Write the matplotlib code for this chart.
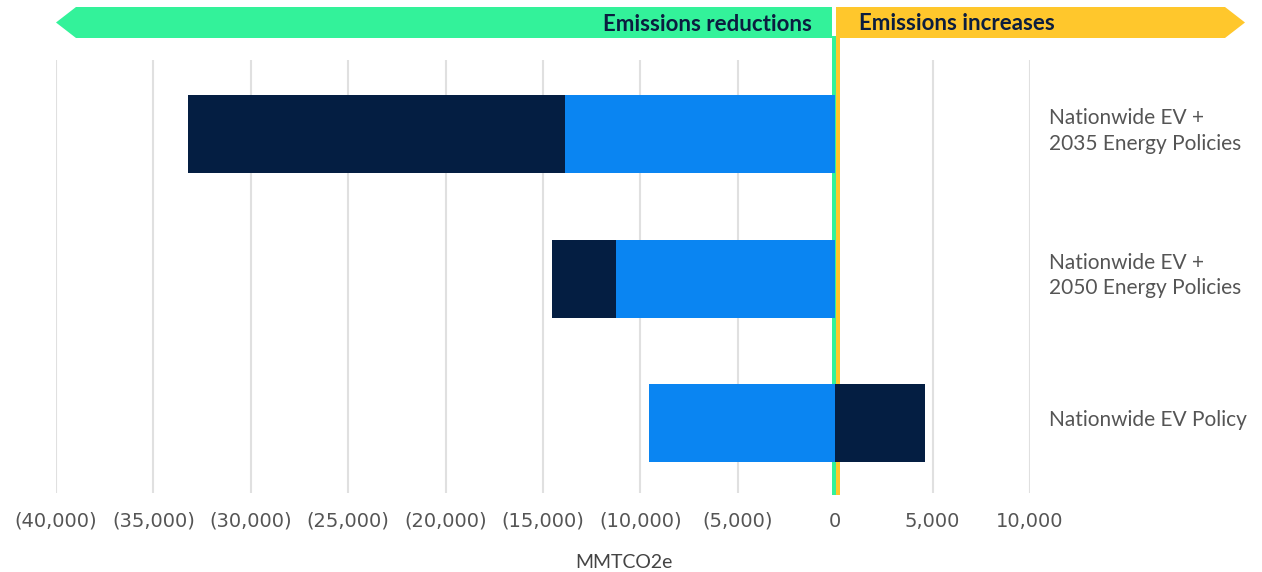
import matplotlib
matplotlib.use("Agg")
import matplotlib.pyplot as plt
from matplotlib.patches import Polygon
from matplotlib.lines import Line2D
import matplotlib.transforms as mtransforms
import numpy as np

# ---- data ----
categories = ["Nationwide EV +\n2035 Energy Policies",
              "Nationwide EV +\n2050 Energy Policies",
              "Nationwide EV Policy"]
blue_vals = [-13850, -11230, -9540]     # first segment (light blue)
navy_vals = [-19380, -3330, 4630]       # second segment (navy)
xticks = [-40000, -35000, -30000, -25000, -20000, -15000, -10000, -5000, 0, 5000, 10000]
xtick_labels = ["(40,000)", "(35,000)", "(30,000)", "(25,000)", "(20,000)",
                "(15,000)", "(10,000)", "(5,000)", "0", "5,000", "10,000"]
x_label = "MMTCO2e"
arrow_left_text = "Emissions reductions"
arrow_right_text = "Emissions increases"

BLUE = "#0A85F2"
NAVY = "#041E42"
GREEN = "#33F29A"
YELLOW = "#FFC72C"
GRID = "#E0E0E0"
TEXT = "#555555"

W, H = 1262, 572
fig = plt.figure(figsize=(W / 100, H / 100), dpi=100)

ax_left, ax_right = 56, 1030
ax_top, ax_bot = 60, 493
ax = fig.add_axes([ax_left / W, 1 - ax_bot / H, (ax_right - ax_left) / W, (ax_bot - ax_top) / H])

y = np.arange(len(categories))
bh = 0.54
for i in y:
    b = blue_vals[i]
    n = navy_vals[i]
    ax.barh(i, b, height=bh, color=BLUE, zorder=3)
    start = b if np.sign(n) == np.sign(b) else 0
    ax.barh(i, n, left=start, height=bh, color=NAVY, zorder=3)

ax.set_xlim(-40000, 10000)
ax.set_ylim(2.484, -0.512)
ax.set_xticks(xticks)
ax.set_xticklabels(xtick_labels, fontsize=14, color=TEXT, family="DejaVu Sans")
ax.tick_params(axis="x", length=0, pad=13.5)
ax.set_yticks([])
for s in ax.spines.values():
    s.set_visible(False)
ax.grid(axis="x", color=GRID, linewidth=1.5, zorder=0)
ax.set_axisbelow(True)

# category labels on the right
blend = mtransforms.blended_transform_factory(fig.transFigure, ax.transData)
for i, c in zip(y, categories):
    ax.text(1049 / W, i - 0.02, c, transform=blend,
            ha="left", va="center", fontsize=15, color=TEXT, family="Lato", linespacing=1.33)

# zero reference lines (green + yellow), behind bars
ymax = (ax_bot - 38) / (ax_bot - ax_top)
t_g = mtransforms.offset_copy(ax.get_xaxis_transform(), fig=fig, x=-1.2 * 0.72, y=0, units="points")
t_y = mtransforms.offset_copy(ax.get_xaxis_transform(), fig=fig, x=2.8 * 0.72, y=0, units="points")
ax.add_line(Line2D([0, 0], [0, ymax], transform=t_g, color=GREEN, linewidth=4 * 0.72, clip_on=False, zorder=2))
ax.add_line(Line2D([0, 0], [0, ymax], transform=t_y, color=YELLOW, linewidth=4 * 0.72, clip_on=False, zorder=2))

# header arrows (pixel coords -> figure fraction)
def fc(px, py):
    return (px / W, 1 - py / H)

green_poly = [fc(56, 22.5), fc(76, 7), fc(832, 7), fc(832, 38), fc(76, 38)]
yellow_poly = [fc(836, 7), fc(1225, 7), fc(1245, 22.5), fc(1225, 38), fc(836, 38)]
fig.patches.append(Polygon(green_poly, closed=True, transform=fig.transFigure, facecolor=GREEN, edgecolor="none"))
fig.patches.append(Polygon(yellow_poly, closed=True, transform=fig.transFigure, facecolor=YELLOW, edgecolor="none"))
fig.text(812 / W, 1 - 24.5 / H, arrow_left_text, ha="right", va="center", fontsize=16,
         fontweight="bold", color="#0B1D3F", family="Lato")
fig.text(859 / W, 1 - 23.5 / H, arrow_right_text, ha="left", va="center", fontsize=16,
         fontweight="bold", color="#0B1D3F", family="Lato")

fig.text(624 / W, 1 - 562 / H, x_label, ha="center", va="center", fontsize=14, color="#444444", family="Lato")

fig.savefig("out.png", dpi=100)
